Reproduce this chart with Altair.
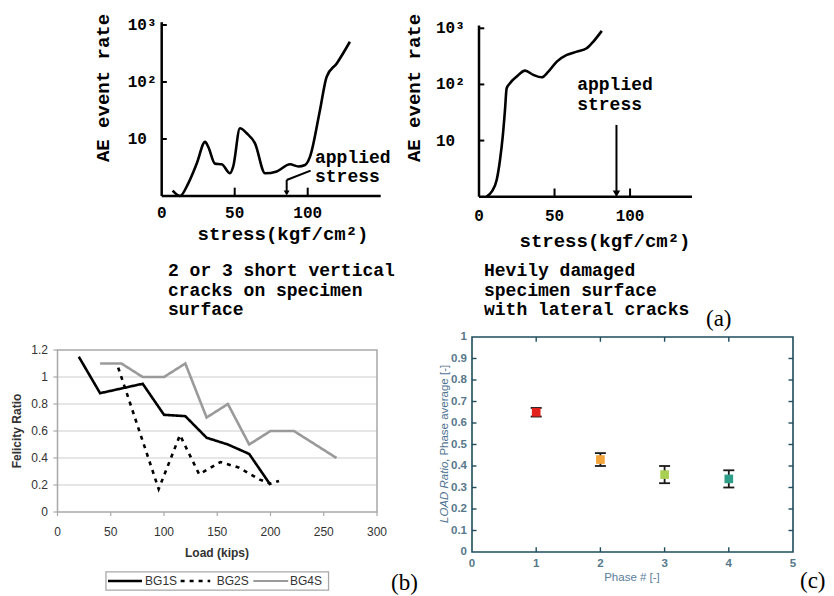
import altair as alt
import pandas as pd

W, H = 834, 596
MONO = "Liberation Mono"
SANS = "Liberation Sans"
SERIF = "Liberation Serif"

# ---------------- data ----------------
# (a) left: AE event rate vs stress
a1_stress = [7.5, 12.5, 18.2, 24.0, 29.7, 31.9, 36.5, 41.1, 46.8, 49.0, 53.6, 58.2,
             63.9, 70.8, 78.8, 87.9, 93.6, 98.2, 101.6, 108.4, 113.0, 119.9, 128.9]
a1_rate = [1.24, 1.0, 1.67, 3.7, 8.9, 7.3, 3.7, 3.6, 2.5, 3.3, 15.4, 12.6,
           8.4, 2.5, 2.7, 3.6, 3.3, 3.5, 4.9, 32, 124, 212, 508]
# (a) right
a2_stress = [5.1, 8.4, 11.7, 13.9, 15.7, 17.2, 18.3, 20.5, 25.0, 30.5, 36.0, 41.5,
             45.9, 51.5, 58.1, 64.7, 71.3, 75.7, 81.3]
a2_rate = [1.0, 1.23, 1.98, 4.5, 11.7, 35, 85, 105, 138, 176, 148, 134,
           169, 255, 335, 384, 441, 580, 900]
a_xticks = [0, 50, 100]
a_yticks = [10, 100, 1000]
a_ylabels = ["10", "10²", "10³"]
caption_left = ["2 or 3 short vertical", "cracks on specimen", "surface"]
caption_right = ["Hevily damaged", "specimen surface", "with lateral cracks"]

# (b) Felicity ratio vs load
b_series = ["BG1S", "BG2S", "BG4S"]
bg1s_load = [20, 40, 80, 100, 120, 140, 160, 180, 200]
bg1s_ratio = [1.15, 0.88, 0.95, 0.72, 0.71, 0.55, 0.50, 0.43, 0.20]
bg2s_load = [57, 95, 115, 133, 153, 170, 190, 200, 208]
bg2s_ratio = [1.07, 0.17, 0.57, 0.28, 0.37, 0.33, 0.24, 0.21, 0.23]
bg4s_load = [40, 60, 80, 100, 120, 140, 160, 180, 200, 222, 262]
bg4s_ratio = [1.1, 1.1, 1.0, 1.0, 1.1, 0.7, 0.8, 0.5, 0.6, 0.6, 0.4]
b_xticks = [0, 50, 100, 150, 200, 250, 300]
b_yticks = [0, 0.2, 0.4, 0.6, 0.8, 1.0, 1.2]

# (c) load ratio per phase
c_phase = [1, 2, 3, 4]
c_avg = [0.65, 0.43, 0.36, 0.34]
c_lo = [0.63, 0.40, 0.32, 0.30]
c_hi = [0.67, 0.46, 0.40, 0.38]
c_colors = ["#e3211c", "#f2a33a", "#a9cf52", "#2f9e88"]
c_xticks = [0, 1, 2, 3, 4, 5]
c_yticks = [0, 0.1, 0.2, 0.3, 0.4, 0.5, 0.6, 0.7, 0.8, 0.9, 1.0]

ONE = pd.DataFrame({"k": [0]})


def XD(v, s):
    return alt.XDatum(v, type="quantitative", scale=s, axis=None)


def YD(v, s):
    return alt.YDatum(v, type="quantitative", scale=s, axis=None)


def seg(x1, y1, x2, y2, sx, sy, **kw):
    return alt.Chart(ONE).mark_rule(**kw).encode(
        x=XD(x1, sx), x2=alt.X2Datum(x2), y=YD(y1, sy), y2=alt.Y2Datum(y2))


def free_text(text, x, y, **kw):
    return alt.Chart(ONE).mark_text(text=text, **kw).encode(x=alt.value(x), y=alt.value(y))


# ---------------- panel (a) ----------------
def a_panel(stress, rate, x_rng, x_max, y_rng, lab_dx, lab_dy,
            txt_x, txt_y, arrow_x, arrow_top, head_size, lead=None):
    sx = alt.Scale(domain=[0, x_max], range=x_rng, nice=False, zero=False)
    sy = alt.Scale(type="log", domain=[1, 1000], range=y_rng, nice=False)
    blk = dict(color="black", strokeWidth=2.5)
    curve = alt.Chart(pd.DataFrame({"stress": stress, "rate": rate})).mark_line(
        color="black", strokeWidth=2.6, interpolate="monotone").encode(
        x=alt.X("stress:Q", scale=sx, axis=None),
        y=alt.Y("rate:Q", scale=sy, axis=None))
    xdom = seg(0, 1, x_max, 1, sx, sy, **blk)
    ydom = seg(0, 1, 0, 1120, sx, sy, **blk)
    ytk = alt.Chart(pd.DataFrame({"v": a_yticks})).mark_rule(color="black", strokeWidth=2).encode(
        x=XD(0, sx), x2=alt.X2Datum(3.5), y=alt.Y("v:Q", scale=sy, axis=None))
    xtk = alt.Chart(pd.DataFrame({"v": a_xticks[1:]})).mark_rule(color="black", strokeWidth=2).encode(
        x=alt.X("v:Q", scale=sx, axis=None), y=YD(1, sy), y2=alt.Y2Datum(1.4))
    lab_kw = dict(font=MONO, fontSize=16, fontWeight="bold", color="black")
    xlab = alt.Chart(pd.DataFrame({"v": a_xticks})).mark_text(
        align="center", baseline="middle", dy=lab_dy, **lab_kw).encode(
        x=alt.X("v:Q", scale=sx, axis=None), y=YD(1, sy), text=alt.Text("v:Q"))
    ylab = alt.Chart(pd.DataFrame({"v": a_yticks, "t": a_ylabels})).mark_text(
        align="left", baseline="middle", dx=lab_dx, **lab_kw).encode(
        x=XD(0, sx), y=alt.Y("v:Q", scale=sy, axis=None), text="t:N")
    txt = alt.Chart(pd.DataFrame({"x": [txt_x, txt_x], "y": txt_y,
                                  "t": ["applied", "stress"]})).mark_text(
        font=MONO, fontSize=18, fontWeight="bold", align="left", baseline="middle",
        color="black").encode(
        x=alt.X("x:Q", scale=sx, axis=None), y=alt.Y("y:Q", scale=sy, axis=None),
        text="t:N")
    shaft = seg(arrow_x, arrow_top, arrow_x, 1.15, sx, sy, color="black", strokeWidth=2)
    head = alt.Chart(ONE).mark_point(shape="triangle-down", filled=True, size=head_size,
                                     color="black", opacity=1).encode(
        x=XD(arrow_x, sx), y=YD(1.13, sy))
    layers = [curve, xdom, ydom, ytk, xtk, xlab, ylab, txt, shaft, head]
    if lead is not None:
        layers.append(seg(lead[0], lead[1], lead[2], lead[3], sx, sy,
                          color="black", strokeWidth=2))
    return alt.layer(*layers)


a1 = a_panel(a1_stress, a1_rate, [161.7, 380.7], 150, [196, 25], -34, 17,
             105, [4.6, 2.15], 85.6, 1.91, 35, lead=(102, 2.78, 85.6, 1.91))
a2 = a_panel(a2_stress, a2_rate, [479, 692], 141, [196.7, 28.3], -43, 19,
             65, [98, 43.5], 91, 19, 55)

mono_t = dict(font=MONO, fontSize=19, fontWeight="bold", color="black",
              align="center", baseline="middle")
t_a1x = free_text("stress(kgf/cm²)", 283, 234, **mono_t)
t_a1y = free_text("AE event rate", 103, 88, angle=270, **mono_t)
t_a2x = free_text("stress(kgf/cm²)", 605, 241, **mono_t)
t_a2y = free_text("AE event rate", 414, 88, angle=270, **mono_t)

# ---------------- panel (b) ----------------
bx = alt.Scale(domain=[0, 300], range=[57.5, 377], nice=False, zero=False)
by = alt.Scale(domain=[0, 1.2], range=[512, 350], nice=False, zero=False)
rows = []
for s, L, R in zip(b_series, [bg1s_load, bg2s_load, bg4s_load],
                   [bg1s_ratio, bg2s_ratio, bg4s_ratio]):
    for l, r in zip(L, R):
        rows.append({"series": s, "load": l, "ratio": r})
df_b = pd.DataFrame(rows)
b_colors = ["#000000", "#000000", "#9a9a9a"]
b_dash = [[1, 0], [4, 5], [1, 0]]
b_width = [2.6, 2.6, 2.0]

GR = "#a8a8a8"
TX = "#333333"
b_grid = alt.Chart(pd.DataFrame({"v": b_yticks[1:-1]})).mark_rule(
    color="#dedede", strokeWidth=1.6).encode(
    x=XD(0, bx), x2=alt.X2Datum(300), y=alt.Y("v:Q", scale=by, axis=None))
b_frame = alt.Chart(ONE).mark_rect(fillOpacity=0, stroke=GR, strokeWidth=1.5).encode(
    x=XD(0, bx), x2=alt.X2Datum(300), y=YD(0, by), y2=alt.Y2Datum(1.2))
b_xtk = alt.Chart(pd.DataFrame({"v": b_xticks})).mark_rule(color=GR, strokeWidth=1.2).encode(
    x=alt.X("v:Q", scale=bx, axis=None), y=YD(0, by), y2=alt.Y2Datum(-0.03))
b_ytk = alt.Chart(pd.DataFrame({"v": b_yticks})).mark_rule(color=GR, strokeWidth=1.2).encode(
    x=XD(0, bx), x2=alt.X2Datum(-3.8), y=alt.Y("v:Q", scale=by, axis=None))
b_lab = dict(font=SANS, fontSize=12, color=TX)
b_xlab = alt.Chart(pd.DataFrame({"v": b_xticks})).mark_text(
    align="center", baseline="middle", dy=20, **b_lab).encode(
    x=alt.X("v:Q", scale=bx, axis=None), y=YD(0, by), text=alt.Text("v:Q"))
b_ylab = alt.Chart(pd.DataFrame({"v": b_yticks})).mark_text(
    align="right", baseline="middle", dx=-9.5, **b_lab).encode(
    x=XD(0, bx), y=alt.Y("v:Q", scale=by, axis=None), text=alt.Text("v:Q", format="~g"))
b_lines = alt.Chart(df_b).mark_line().encode(
    x=alt.X("load:Q", scale=bx, axis=None),
    y=alt.Y("ratio:Q", scale=by, axis=None),
    color=alt.Color("series:N", scale=alt.Scale(domain=b_series, range=b_colors), legend=None),
    strokeDash=alt.StrokeDash("series:N", scale=alt.Scale(domain=b_series, range=b_dash),
                              legend=None),
    strokeWidth=alt.StrokeWidth("series:N", scale=alt.Scale(domain=b_series, range=b_width),
                                legend=None))
# legend (drawn in the panel's own load / ratio coordinates, below the axis)
leg_y = -0.511
leg_box = alt.Chart(ONE).mark_rect(fillOpacity=0, stroke=GR, strokeWidth=1.3).encode(
    x=XD(45.5, bx), x2=alt.X2Datum(254.5), y=YD(-0.444, by), y2=alt.Y2Datum(-0.578))
leg_s1 = seg(47.4, leg_y, 79.3, leg_y, bx, by, color="#000000", strokeWidth=2.6)
leg_s2 = seg(115.6, leg_y, 143.4, leg_y, bx, by, color="#000000", strokeWidth=2.6,
             strokeDash=[4, 5])
leg_s3 = seg(183.9, leg_y, 216.6, leg_y, bx, by, color="#9a9a9a", strokeWidth=2.0)
leg_t = alt.Chart(pd.DataFrame({"x": [82.2, 149.5, 218.3], "t": b_series})).mark_text(
    align="left", baseline="middle", **b_lab).encode(
    x=alt.X("x:Q", scale=bx, axis=None), y=YD(leg_y, by), text="t:N")
b = alt.layer(b_grid, b_frame, b_xtk, b_ytk, b_xlab, b_ylab, b_lines,
              leg_box, leg_s1, leg_s2, leg_s3, leg_t)
sans_b = dict(font=SANS, fontSize=12, fontWeight="bold", color=TX, align="center",
              baseline="middle")
t_bx = free_text("Load (kips)", 217, 553, **sans_b)
t_by = free_text("Felicity Ratio", 17, 431, angle=270, **sans_b)

# ---------------- panel (c) ----------------
cx = alt.Scale(domain=[0, 5], range=[472, 793], nice=False, zero=False)
cy = alt.Scale(domain=[0, 1], range=[552, 337], nice=False, zero=False)
TEAL = "#1e4d5c"
LAB = "#56788a"
df_c = pd.DataFrame({"phase": c_phase, "avg": c_avg, "lo": c_lo, "hi": c_hi, "col": c_colors})
c_frame = alt.Chart(ONE).mark_rect(fillOpacity=0, stroke=TEAL, strokeWidth=1.6).encode(
    x=XD(0, cx), x2=alt.X2Datum(5), y=YD(0, cy), y2=alt.Y2Datum(1))
tk = dict(color=TEAL, strokeWidth=1.4)
c_tl = alt.Chart(pd.DataFrame({"v": c_yticks[1:-1]})).mark_rule(**tk).encode(
    x=XD(0, cx), x2=alt.X2Datum(0.07), y=alt.Y("v:Q", scale=cy, axis=None))
c_tr = alt.Chart(pd.DataFrame({"v": c_yticks[1:-1]})).mark_rule(**tk).encode(
    x=XD(4.93, cx), x2=alt.X2Datum(5), y=alt.Y("v:Q", scale=cy, axis=None))
c_tb = alt.Chart(pd.DataFrame({"v": c_xticks[1:-1]})).mark_rule(**tk).encode(
    x=alt.X("v:Q", scale=cx, axis=None), y=YD(0, cy), y2=alt.Y2Datum(0.022))
c_tt = alt.Chart(pd.DataFrame({"v": c_xticks[1:-1]})).mark_rule(**tk).encode(
    x=alt.X("v:Q", scale=cx, axis=None), y=YD(0.978, cy), y2=alt.Y2Datum(1))
c_lab = dict(font=SANS, fontSize=11.5, fontWeight="bold", color=LAB)
c_xlab = alt.Chart(pd.DataFrame({"v": c_xticks})).mark_text(
    align="center", baseline="middle", dy=12, **c_lab).encode(
    x=alt.X("v:Q", scale=cx, axis=None), y=YD(0, cy), text=alt.Text("v:Q"))
c_ylab = alt.Chart(pd.DataFrame({"v": c_yticks})).mark_text(
    align="right", baseline="middle", dx=-5, **c_lab).encode(
    x=XD(0, cx), y=alt.Y("v:Q", scale=cy, axis=None), text=alt.Text("v:Q", format="~g"))
c_base = alt.Chart(df_c)
c_err = c_base.mark_rule(color="#1a1a1a", strokeWidth=1.8).encode(
    x=alt.X("phase:Q", scale=cx, axis=None), y=alt.Y("lo:Q", scale=cy, axis=None),
    y2="hi:Q")
c_cap_lo = c_base.mark_tick(orient="horizontal", size=11, thickness=1.8, color="#1a1a1a",
                            opacity=1).encode(
    x=alt.X("phase:Q", scale=cx, axis=None), y=alt.Y("lo:Q", scale=cy, axis=None))
c_cap_hi = c_base.mark_tick(orient="horizontal", size=11, thickness=1.8, color="#1a1a1a",
                            opacity=1).encode(
    x=alt.X("phase:Q", scale=cx, axis=None), y=alt.Y("hi:Q", scale=cy, axis=None))
c_pts = c_base.mark_point(shape="square", filled=True, size=75, opacity=1).encode(
    x=alt.X("phase:Q", scale=cx, axis=None), y=alt.Y("avg:Q", scale=cy, axis=None),
    color=alt.Color("col:N", scale=None))
c = alt.layer(c_frame, c_tl, c_tr, c_tb, c_tt, c_xlab, c_ylab, c_err, c_cap_lo, c_cap_hi, c_pts)
t_cx = free_text("Phase # [-]", 632, 578, font=SANS, fontSize=11.5, color="#5a7d9a",
                 align="center", baseline="middle")
yt_kw = dict(font=SANS, fontSize=11.5, color="#4f7390", align="left", baseline="middle",
             angle=270)
t_c1 = free_text("LOAD Ratio", 445, 523, fontStyle="italic", **yt_kw)
t_c2 = free_text(", Phase average [-]", 445, 462, **yt_kw)

# ---------------- captions and panel letters ----------------
cap_kw = dict(font=MONO, fontSize=18, fontWeight="bold", color="black", align="left",
              baseline="top", lineHeight=19.5)
t_cap_l = free_text(caption_left, 168, 262, **cap_kw)
t_cap_r = free_text(caption_right, 484, 262, **cap_kw)
let_kw = dict(font=SERIF, fontSize=23, color="black", align="left", baseline="middle")
t_a = free_text("(a)", 706, 319, **let_kw)
t_b = free_text("(b)", 391, 583, **let_kw)
t_c = free_text("(c)", 800, 581, **let_kw)

chart = alt.layer(
    a1, a2, b, c,
    t_a1x, t_a1y, t_a2x, t_a2y, t_bx, t_by, t_cx, t_c1, t_c2,
    t_cap_l, t_cap_r, t_a, t_b, t_c
).resolve_scale(
    x="independent", y="independent", color="independent",
    strokeDash="independent", strokeWidth="independent"
).properties(
    width=W, height=H, padding=0, background="white",
    autosize=alt.AutoSizeParams(type="none")
).configure_view(stroke=None)

chart.save("out.html", embed_options={"renderer": "svg", "actions": False})
